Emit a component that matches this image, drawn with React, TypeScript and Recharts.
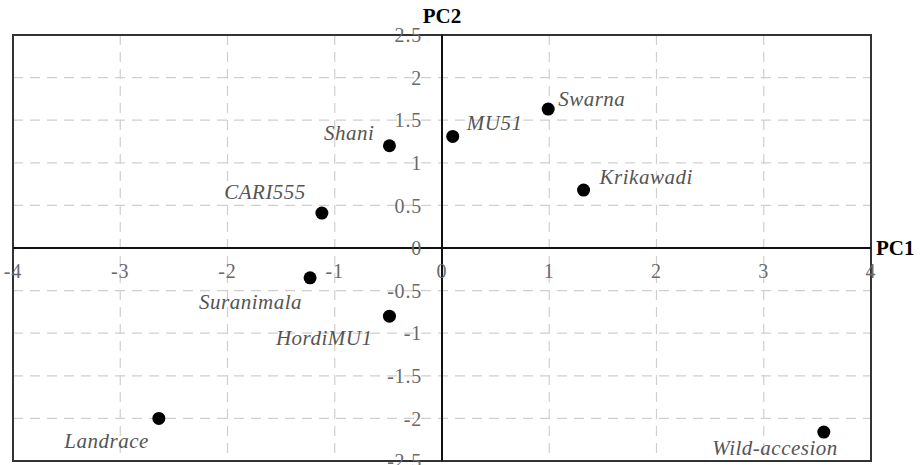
import React from 'react'
import { ScatterChart, Scatter, XAxis, YAxis, CartesianGrid, ReferenceLine, ReferenceDot, ReferenceArea } from 'recharts'

const names = ['Shani', 'CARI555', 'MU51', 'Swarna', 'Krikawadi', 'Suranimala', 'HordiMU1', 'Landrace', 'Wild-accesion']
const pc1 = [-0.49, -1.12, 0.1, 0.99, 1.32, -1.23, -0.49, -2.64, 3.56]
const pc2 = [1.2, 0.41, 1.31, 1.63, 0.68, -0.35, -0.8, -2.0, -2.16]

const xTicks = [-4, -3, -2, -1, 0, 1, 2, 3, 4]
const yTicks = [-2.5, -2, -1.5, -1, -0.5, 0, 0.5, 1, 1.5, 2, 2.5]

// where each point's name sits, relative to the dot
const labelPos: Record<string, { dx: number; dy: number; anchor: 'start' | 'end' }> = {
  Shani: { dx: -15, dy: -13, anchor: 'end' },
  CARI555: { dx: -16, dy: -21, anchor: 'end' },
  MU51: { dx: 14, dy: -13, anchor: 'start' },
  Swarna: { dx: 10, dy: -10, anchor: 'start' },
  Krikawadi: { dx: 16, dy: -13, anchor: 'start' },
  Suranimala: { dx: -8, dy: 24, anchor: 'end' },
  HordiMU1: { dx: -17, dy: 22, anchor: 'end' },
  Landrace: { dx: -10, dy: 23, anchor: 'end' },
  'Wild-accesion': { dx: 14, dy: 16, anchor: 'end' },
}

const data = names.map((name, i) => ({ name, x: pc1[i], y: pc2[i] }))

const serif = 'Liberation Serif, DejaVu Serif, serif'
const tickStyle = { fill: '#6a6a6a', fontSize: 20, fontFamily: serif, letterSpacing: 0.8 }

const PointShape = (props: any) => {
  const { cx, cy, payload } = props
  const p = labelPos[payload.name]
  return (
    <g>
      <circle cx={cx} cy={cy} r={6.5} fill="#000" />
      <text
        x={cx + p.dx}
        y={cy + p.dy}
        textAnchor={p.anchor}
        dominantBaseline="central"
        fill="#555"
        style={{ fontSize: 21, fontStyle: 'italic', fontFamily: serif, letterSpacing: 0.5 }}
      >
        {payload.name}
      </text>
    </g>
  )
}

export default function App() {
  return (
    <div style={{ position: 'absolute', left: 0, top: 0, width: 924, height: 465, background: '#fff', fontFamily: serif }}>
      <ScatterChart width={924} height={465} margin={{ top: 35, right: 53, bottom: 4, left: 13 }}>
        <XAxis type="number" dataKey="x" domain={[-4, 4]} ticks={xTicks} hide />
        <YAxis type="number" dataKey="y" domain={[-2.5, 2.5]} ticks={yTicks} hide />
        <CartesianGrid stroke="#cfcfcf" strokeDasharray="10 7" strokeWidth={1.2} />
        <ReferenceArea x1={-4} x2={4} y1={-2.5} y2={2.5} fill="none" stroke="#333" strokeWidth={2} />
        <ReferenceLine
          x={0}
          stroke="#111"
          strokeWidth={2}
          label={{ value: 'PC2', position: 'top', offset: 12, fill: '#000', fontSize: 21, fontWeight: 'bold', fontFamily: serif }}
        />
        <ReferenceLine
          y={0}
          stroke="#111"
          strokeWidth={2}
          label={{ value: 'PC1', position: 'right', offset: 5, fill: '#000', fontSize: 21, fontWeight: 'bold', fontFamily: serif }}
        />
        {xTicks.map((t) => (
          <ReferenceDot
            key={'x' + t}
            x={t}
            y={0}
            r={1}
            fill="none"
            stroke="none"
            label={{ value: String(t), position: 'bottom', offset: 15, ...tickStyle }}
          />
        ))}
        {yTicks.map((t) => (
          <ReferenceDot
            key={'y' + t}
            x={0}
            y={t}
            r={1}
            fill="none"
            stroke="none"
            label={{ value: String(t), position: 'left', offset: 19, ...tickStyle }}
          />
        ))}
        <Scatter data={data} shape={PointShape} isAnimationActive={false} />
      </ScatterChart>
    </div>
  )
}
